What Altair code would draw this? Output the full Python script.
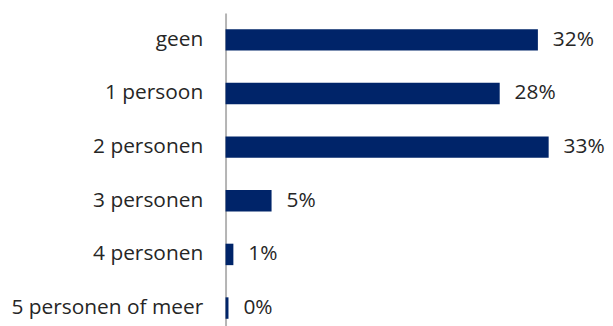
import altair as alt
import pandas as pd

categories = ["geen", "1 persoon", "2 personen", "3 personen", "4 personen", "5 personen of meer"]
values = [31.9, 28.0, 33.0, 4.7, 0.8, 0.3]
labels = ["32%", "28%", "33%", "5%", "1%", "0%"]

df = pd.DataFrame({"cat": categories, "val": values, "lab": labels})

FONT = "Open Sans"
NAVY = "#002469"

y = alt.Y("cat:N", sort=categories, title=None,
          scale=alt.Scale(paddingInner=0.6, paddingOuter=0.3),
          axis=alt.Axis(domainColor="#b4b4b4", domainWidth=2, ticks=False,
                        labelFont=FONT, labelFontSize=21, labelColor="#262626",
                        labelPadding=23, labelLimit=400))
x = alt.X("val:Q", title=None, scale=alt.Scale(domain=[0, 35], nice=False),
          axis=None)

bars = alt.Chart(df).mark_bar(color=NAVY).encode(x=x, y=y)
text = alt.Chart(df).mark_text(align="left", baseline="middle", dx=15,
                               font=FONT, fontSize=21, color="#262626").encode(
    x=x, y=y, text="lab:N")

chart = (bars + text).properties(
    width=345, height=324,
    autosize=alt.AutoSizeParams(type="none"),
    padding={"left": 219, "top": 4, "right": 37, "bottom": -8},
).configure_view(stroke=None)

chart.save("out.html", embed_options={"renderer": "svg", "actions": False})
